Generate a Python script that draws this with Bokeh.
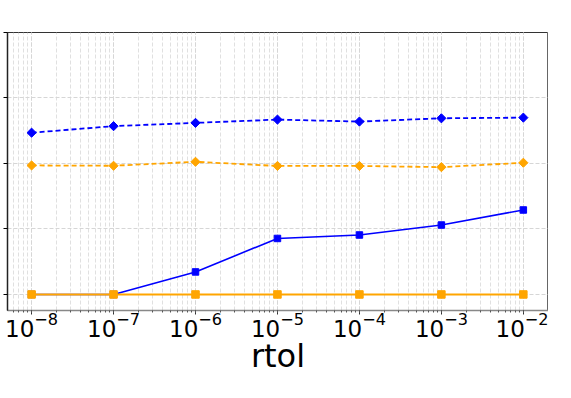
import math
from bokeh.plotting import figure
from bokeh.embed import file_html
from bokeh.resources import INLINE
from bokeh.models import Range1d, FixedTicker, LogTicker, LinearAxis, CustomJSTickFormatter

rtol = [1e-8, 1e-7, 1e-6, 1e-5, 1e-4, 1e-3, 1e-2]
blue_dashed = [2.47, 2.57, 2.62, 2.67, 2.64, 2.69, 2.70]
orange_dashed = [1.97, 1.965, 2.026, 1.962, 1.962, 1.944, 2.011]
blue_solid = [0.0, 0.0, 0.344, 0.855, 0.908, 1.06, 1.29]
orange_solid = [0.0, 0.0, 0.0, 0.0, 0.0, 0.0, 0.0]
y_ticks = [0, 1, 2, 3, 4]

BLUE = "#0000ff"
ORANGE = "#ffa500"

p = figure(width=548, height=377, x_axis_type="log",
           x_range=Range1d(10 ** -8.294, 10 ** -1.693),
           y_range=Range1d(-0.245, 4.0),
           output_backend="svg", toolbar_location=None,
           min_border_left=7, min_border_top=32, min_border_right=0, min_border_bottom=0)

p.outline_line_color = "#333333"
p.outline_line_width = 1

# grids
p.xgrid.grid_line_color = "#d6d6d6"
p.xgrid.grid_line_dash = "4 2"
p.xgrid.minor_grid_line_color = "#e0e0e0"
p.xgrid.minor_grid_line_dash = "4 2"
p.ygrid.grid_line_color = "#d6d6d6"
p.ygrid.grid_line_dash = "4 2"
p.ygrid.ticker = FixedTicker(ticks=y_ticks)

# x axis
p.xaxis.ticker = LogTicker(num_minor_ticks=10)
p.xaxis.axis_line_color = "#888888"
p.xaxis.axis_line_width = 1.5
p.xaxis.major_tick_line_color = "#333333"
p.xaxis.major_tick_out = 4
p.xaxis.major_tick_in = 0
p.xaxis.minor_tick_line_color = "#555555"
p.xaxis.minor_tick_out = 2
p.xaxis.minor_tick_in = 0
p.xaxis.major_label_text_font = "DejaVu Sans"
p.xaxis.major_label_text_font_size = "23px"
p.xaxis.major_label_text_color = "black"
p.xaxis.major_label_standoff = -3
p.xaxis.axis_label = "rtol"
p.xaxis.axis_label_text_font = "DejaVu Sans"
p.xaxis.axis_label_text_font_size = "32px"
p.xaxis.axis_label_text_font_style = "normal"
p.xaxis.axis_label_text_color = "black"
p.xaxis.axis_label_standoff = -3

# y axis (labels are outside the picture in the reference)
p.yaxis.ticker = FixedTicker(ticks=y_ticks)
p.yaxis.formatter = CustomJSTickFormatter(code="return ''")
p.yaxis.axis_line_color = "#222222"
p.yaxis.axis_line_width = 1.5
p.yaxis.major_tick_out = 4
p.yaxis.major_tick_in = 0
p.yaxis.minor_tick_line_color = None
p.yaxis.major_label_standoff = 0

right = LinearAxis(ticker=FixedTicker(ticks=[]),
                   axis_line_color="#999999", axis_line_width=2,
                   major_tick_line_color=None, minor_tick_line_color=None,
                   major_label_standoff=0)
p.add_layout(right, "right")

# series
p.line(rtol, blue_solid, line_color=BLUE, line_width=1.6)
p.scatter(rtol, blue_solid, marker="square", size=6.5, color=BLUE)
p.line(rtol, orange_solid, line_color=ORANGE, line_width=2)
p.scatter(rtol, orange_solid, marker="square", size=7.5, color=ORANGE)
p.line(rtol, blue_dashed, line_color=BLUE, line_width=1.8, line_dash="5 3")
p.scatter(rtol, blue_dashed, marker="square", angle=math.pi / 4, size=6.5, color=BLUE)
p.line(rtol, orange_dashed, line_color=ORANGE, line_width=1.8, line_dash="5 3")
p.scatter(rtol, orange_dashed, marker="square", angle=math.pi / 4, size=6.5, color=ORANGE)

open("out.html", "w").write(file_html(p, INLINE))
